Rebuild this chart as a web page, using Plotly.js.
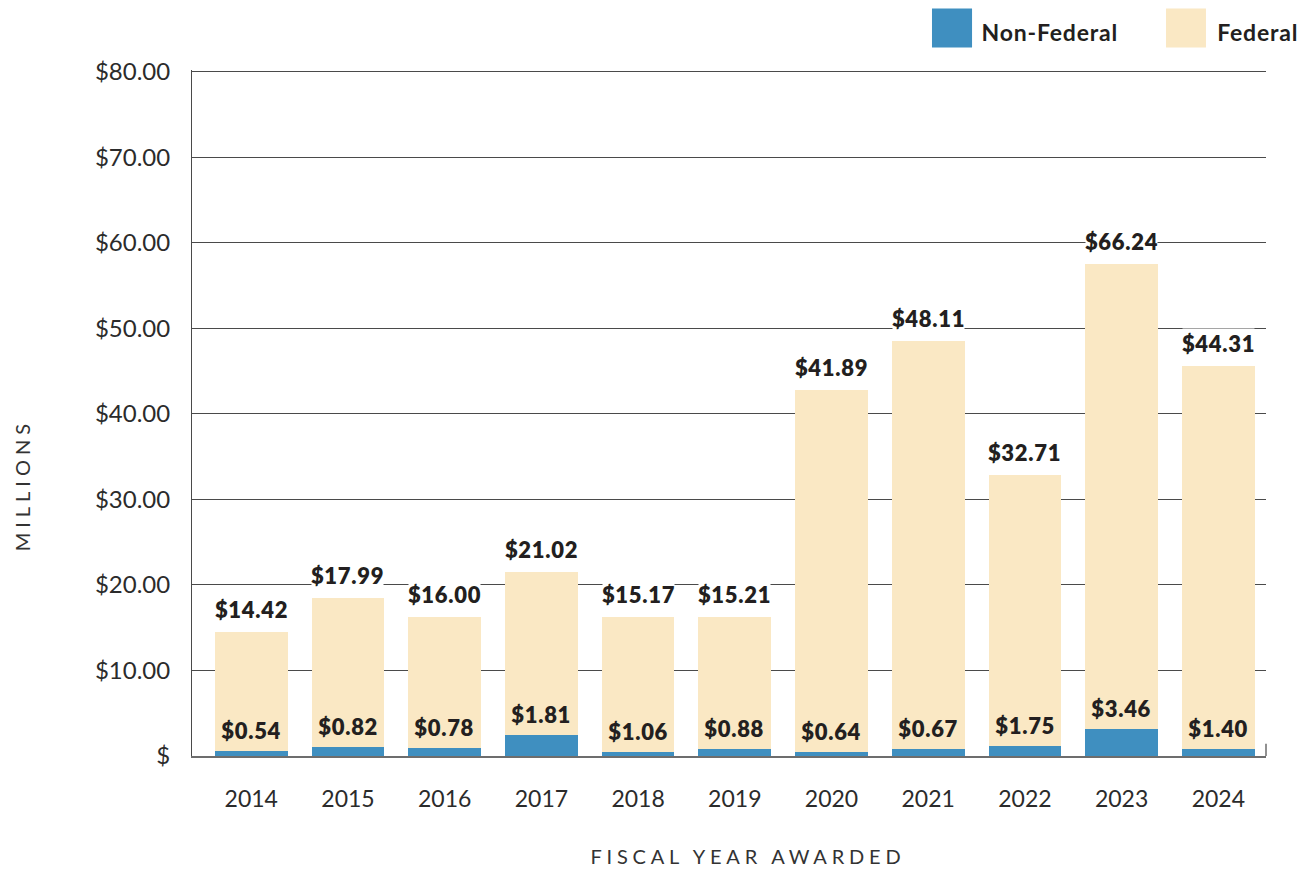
<!DOCTYPE html>
<html>
<head>
<meta charset="utf-8">
<script src="https://cdn.plot.ly/plotly-3.0.1.min.js"></script>
<style>
html,body{margin:0;padding:0;background:#ffffff;}
#chart{width:1309px;height:871px;}
g.annotation text{letter-spacing:0.7px;}
g.annotation[data-index="0"] text{letter-spacing:4.8px;}
g.annotation[data-index="1"] text{letter-spacing:5px;}
g.annotation[data-index="2"] text, g.annotation[data-index="3"] text{letter-spacing:0.8px;}
</style>
</head>
<body>
<div id="chart"></div>
<script>
// ---- data ----
const years = ["2014","2015","2016","2017","2018","2019","2020","2021","2022","2023","2024"];
// bar segment heights as drawn (millions of dollars)
const nonFederal = [0.58, 1.05, 0.93, 2.45, 0.50, 0.82, 0.50, 0.82, 1.17, 3.15, 0.84];
const federal    = [13.87, 17.45, 15.27, 19.01, 15.70, 15.38, 42.30, 47.68, 31.63, 54.32, 44.76];
// printed value labels
const federalLabels    = ["$14.42","$17.99","$16.00","$21.02","$15.17","$15.21","$41.89","$48.11","$32.71","$66.24","$44.31"];
const nonFederalLabels = ["$0.54","$0.82","$0.78","$1.81","$1.06","$0.88","$0.64","$0.67","$1.75","$3.46","$1.40"];
// axis ticks
const yTickVals = [0, 10, 20, 30, 40, 50, 60, 70, 80];
const yTickText = ["$", "$10.00", "$20.00", "$30.00", "$40.00", "$50.00", "$60.00", "$70.00", "$80.00"];
const seriesNames = ["Non-Federal", "Federal"];
const xTitle = "FISCAL YEAR AWARDED";
const yTitle = "MILLIONS";

// ---- styles ----
const BLUE = "#3f8fc0";
const CREAM = "#fae8c4";
const DARK = "#231f20";
const FONT = "Lato, 'Open Sans', sans-serif";

const traces = [
  {type: "bar", name: seriesNames[0], x: years, y: nonFederal,
   marker: {color: BLUE, line: {width: 0}}, hoverinfo: "skip", showlegend: false},
  {type: "bar", name: seriesNames[1], x: years, y: federal,
   marker: {color: CREAM, line: {width: 0}}, hoverinfo: "skip", showlegend: false}
];

const annotations = [
  {xref: "paper", yref: "paper", x: 0.518, y: -0.146, xanchor: "center", yanchor: "middle",
   text: xTitle, showarrow: false, font: {family: FONT, size: 20, color: "#333333"}},
  {xref: "paper", yref: "paper", x: -0.158, y: 0.395, xanchor: "center", yanchor: "middle",
   text: yTitle, textangle: -90, showarrow: false, font: {family: FONT, size: 20, color: "#333333"}},
  {xref: "paper", yref: "paper", x: 0.7375, y: 1.056, xanchor: "left", yanchor: "middle",
   text: seriesNames[0], showarrow: false, font: {family: FONT, size: 23, color: DARK, weight: 700}},
  {xref: "paper", yref: "paper", x: 0.9555, y: 1.056, xanchor: "left", yanchor: "middle",
   text: seriesNames[1], showarrow: false, font: {family: FONT, size: 23, color: DARK, weight: 700}}
];

years.forEach((yr, i) => {
  annotations.push({
    x: i, y: nonFederal[i] + federal[i], xref: "x", yref: "y",
    text: federalLabels[i], showarrow: false, yanchor: "bottom", xanchor: "center",
    yshift: 7, bgcolor: "#ffffff", borderpad: 1,
    font: {family: FONT, size: 22, color: DARK, weight: 800}
  });
  annotations.push({
    x: i, y: nonFederal[i], xref: "x", yref: "y",
    text: nonFederalLabels[i], showarrow: false, yanchor: "bottom", xanchor: "center",
    yshift: 5,
    font: {family: FONT, size: 22, color: DARK, weight: 800}
  });
});

const shapes = [
  // legend swatches
  {type: "rect", xref: "paper", yref: "paper", x0: 0.689, x1: 0.7263, y0: 1.0328, y1: 1.0895,
   fillcolor: BLUE, line: {width: 0}},
  {type: "rect", xref: "paper", yref: "paper", x0: 0.9069, x1: 0.9441, y0: 1.0328, y1: 1.0895,
   fillcolor: CREAM, line: {width: 0}},
  // small end tick on the right of the baseline
  {type: "line", xref: "paper", yref: "paper", x0: 1, x1: 1, y0: 0, y1: 0.018,
   line: {color: "#6d6d6d", width: 1.5}}
];

const layout = {
  width: 1309, height: 871,
  margin: {l: 192, r: 43, t: 69.5, b: 114.5, pad: 0},
  paper_bgcolor: "#ffffff", plot_bgcolor: "#ffffff",
  barmode: "stack", bargap: 0.248,
  showlegend: false,
  font: {family: FONT, color: "#333333"},
  xaxis: {
    type: "category", range: [-0.613, 10.493],
    showgrid: false, zeroline: false,
    showline: true, linecolor: "#6d6d6d", linewidth: 2,
    ticks: "outside", ticklen: 21, tickcolor: "rgba(0,0,0,0)",
    tickfont: {family: FONT, size: 23, color: "#2b2b2b"},
    fixedrange: true
  },
  yaxis: {
    range: [0, 80.2],
    tickvals: yTickVals, ticktext: yTickText,
    showgrid: true, gridcolor: "#4a4a4a", gridwidth: 1,
    zeroline: false,
    showline: true, linecolor: "#4a4a4a", linewidth: 1,
    ticks: "outside", ticklen: 16, tickcolor: "rgba(0,0,0,0)",
    tickfont: {family: FONT, size: 24, color: "#2b2b2b"},
    fixedrange: true
  },
  annotations: annotations,
  shapes: shapes
};

Plotly.newPlot("chart", traces, layout, {displayModeBar: false, staticPlot: true});
</script>
</body>
</html>
